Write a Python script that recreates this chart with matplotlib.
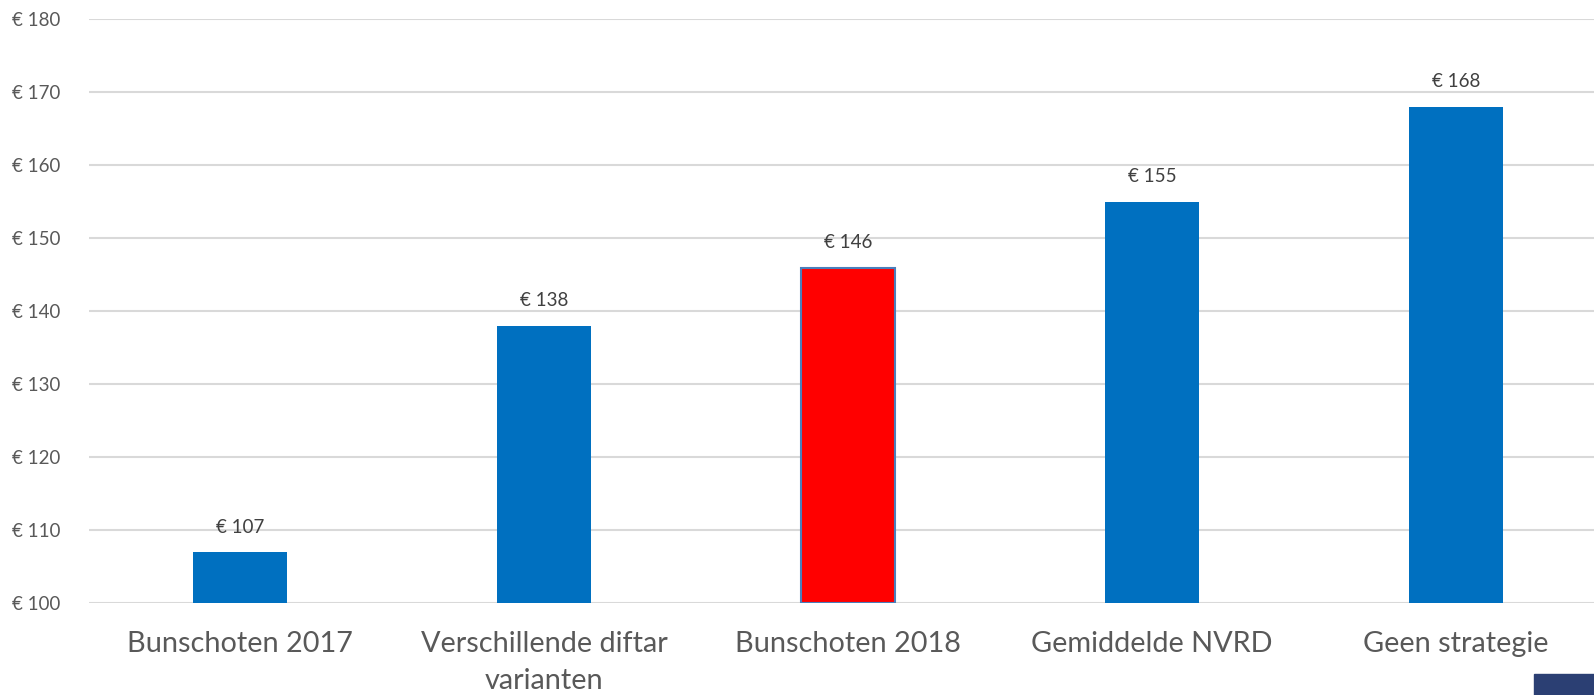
import matplotlib

matplotlib.use("Agg")
import matplotlib.pyplot as plt  # noqa: E402
from matplotlib.patches import Rectangle  # noqa: E402

categories = [
    "Bunschoten 2017",
    "Verschillende diftar\nvarianten",
    "Bunschoten 2018",
    "Gemiddelde NVRD",
    "Geen strategie",
]
values = [107, 138, 146, 155, 168]
highlight = "Bunschoten 2018"
yticks = [100, 110, 120, 130, 140, 150, 160, 170, 180]

BLUE = "#0070c0"
RED = "#ff0000"

plt.rcParams["font.family"] = ["Lato", "DejaVu Sans"]

fig = plt.figure(figsize=(15.94, 6.95), dpi=100)
ax = fig.add_axes([0.0561, 0.1317, 0.9439, 0.8405])

x = list(range(len(categories)))
colors = [RED if c == highlight else BLUE for c in categories]
edges = ["#4a7ebb" if c == highlight else "none" for c in categories]
bars = ax.bar(x, [v - 100 for v in values], 0.31, bottom=100,
              color=colors, edgecolor=edges, linewidth=1.5, zorder=3)

for b, v in zip(bars, values):
    ax.annotate(f"€ {v}", (b.get_x() + b.get_width() / 2, v),
                xytext=(0, 12), textcoords="offset points",
                ha="center", va="bottom", fontsize=13.5, color="#404040")

ax.set_xlim(-0.495, 4.454)
ax.set_ylim(100, 180)
ax.set_yticks(yticks)
ax.set_yticklabels([f"€ {t}" for t in yticks], fontsize=13.5, color="#595959")
ax.set_xticks(x)
ax.set_xticklabels(categories, fontsize=20.8, color="#595959", linespacing=1.5)
ax.tick_params(axis="both", length=0)
ax.tick_params(axis="x", pad=20)
ax.tick_params(axis="y", pad=0)
for lbl in ax.get_yticklabels():
    lbl.set_horizontalalignment("left")
    lbl.set_x(-0.0486 / 0.9439)
for s in ax.spines.values():
    s.set_visible(False)
ax.grid(axis="y", color="#d9d9d9", linewidth=1.5, zorder=0)
ax.set_axisbelow(True)

# partial dark box visible in the bottom-right corner of the slide
fig.patches.append(Rectangle((1534 / 1594, 0), 60 / 1594, 21 / 695,
                             transform=fig.transFigure, color="#2b3f73"))

fig.savefig("out.png", dpi=100)
